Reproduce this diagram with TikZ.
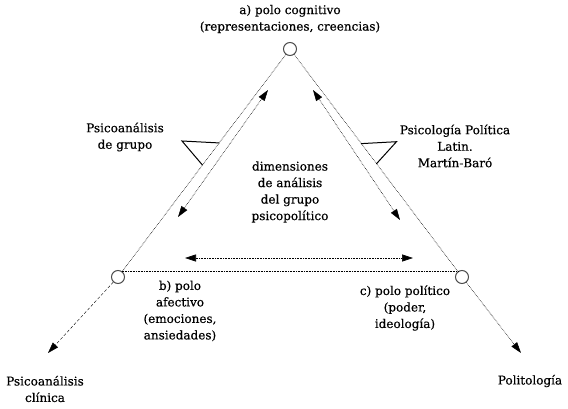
\documentclass[tikz,border=0pt]{standalone}
\usepackage{fontspec}
\setmainfont{DejaVu Serif}[FakeBold=0.5]
\usetikzlibrary{positioning,calc,arrows.meta}

\begin{document}
\begin{tikzpicture}[x=1pt,y=1pt,on grid,
    polo/.style={circle,draw=black!70,line width=1pt,minimum size=13pt,inner sep=0pt},
    txt/.style={align=center,inner sep=0pt,font=\fontsize{12}{16.5}\selectfont},
    lado/.style={densely dotted,line width=0.6pt},
    marca/.style={line width=1pt,line cap=round},
    >={Triangle[length=11pt,width=7pt]}]
    \useasboundingbox (0,0) rectangle (568,408);
            \node[polo] (p_a) at (290,359) {};
            \node[polo] (p_b) at (118,131) {};
            \node[polo] (p_c) at (462,131) {};
            \node[txt] (cog)  [above=30pt of p_a] {a) polo cognitivo\\(representaciones, creencias)};
            \node[txt] (afec) [below right=34pt and 62pt of p_b] {b) polo\\afectivo\\(emociones,\\ansiedades)};
            \node[txt] (poli) [below left=31pt and 57pt of p_c] {c) polo político\\(poder,\\ideología)};
            \node[txt] (grupo) [below left=88pt and 165pt of p_a] {Psicoanálisis\\de grupo};
            \node[txt] (latin) [below right=97pt and 165pt of p_a] {Psicología Política\\Latin.\\Martín-Baró};
            \node[txt] (dim)  [below=143pt of p_a] {dimensiones\\de análisis\\del grupo\\psicopolítico};
            \node[txt] (clin) [below left=112pt and 73pt of p_b] {Psicoanálisis\\clínica};
            \node[txt] (polit) [below right=104pt and 68pt of p_c] {Politología};
            \coordinate (e_b) at (48,55);
            \coordinate (e_c) at (521,55);
            \coordinate (ab_1) at (268,318);
            \coordinate (ab_2) at (178,191);
            \coordinate (ac_1) at (313,318);
            \coordinate (ac_2) at (400,188);
            \coordinate (bc_1) at (185,150);
            \coordinate (bc_2) at (413,150);
            \coordinate (m_b) at (182,267);
            \coordinate (m_c) at (396.5,266.3);
            \path[lado]
                (p_a) edge (p_b)
                      edge (p_c)
                (p_b.60) edge (p_c.120);
            \draw[->,densely dashed] (p_b) -- (e_b);
            \draw[->,lado] (p_c) -- (e_c);
            \draw[<->,lado] (ab_1) -- (ab_2);
            \draw[<->,lado] (ac_1) -- (ac_2);
            \draw[<->,lado] (bc_1) -- (bc_2);
            \draw[marca] ($(p_b)!0.588!(p_a)$) -- (m_b) -- ($(p_b)!0.491!(p_a)$);
            \draw[marca] ($(p_c)!0.585!(p_a)$) -- (m_c) -- ($(p_c)!0.497!(p_a)$);
        \end{tikzpicture}
\end{document}
